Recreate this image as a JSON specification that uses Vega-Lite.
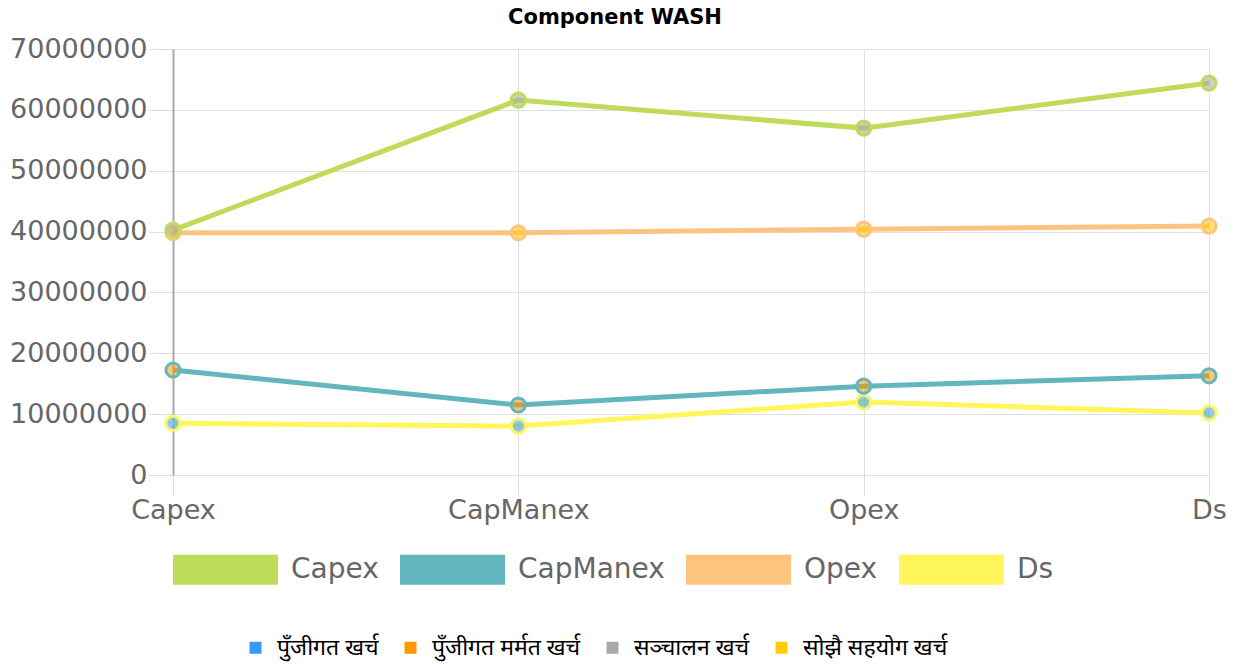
{
  "$schema": "https://vega.github.io/schema/vega-lite/v6.json",
  "width": 1036,
  "height": 426,
  "autosize": {"type": "none"},
  "padding": {"left": 173, "top": 49, "right": 40, "bottom": 189},
  "background": "white",
  "title": {"text": "Component WASH", "font": "DejaVu Sans", "fontSize": 21, "fontWeight": "bold", "color": "#000", "anchor": "middle", "dx": -76, "offset": 7},
  "data": {"values": [
    {"series": "Ds", "stage": "Capex", "amount": 8500000, "cat": "पुँजीगत खर्च"},
    {"series": "Ds", "stage": "CapManex", "amount": 8050000, "cat": "पुँजीगत खर्च"},
    {"series": "Ds", "stage": "Opex", "amount": 12000000, "cat": "पुँजीगत खर्च"},
    {"series": "Ds", "stage": "Ds", "amount": 10200000, "cat": "पुँजीगत खर्च"},
    {"series": "CapManex", "stage": "Capex", "amount": 17250000, "cat": "पुँजीगत मर्मत खर्च"},
    {"series": "CapManex", "stage": "CapManex", "amount": 11500000, "cat": "पुँजीगत मर्मत खर्च"},
    {"series": "CapManex", "stage": "Opex", "amount": 14600000, "cat": "पुँजीगत मर्मत खर्च"},
    {"series": "CapManex", "stage": "Ds", "amount": 16300000, "cat": "पुँजीगत मर्मत खर्च"},
    {"series": "Opex", "stage": "Capex", "amount": 39800000, "cat": "सोझै सहयोग खर्च"},
    {"series": "Opex", "stage": "CapManex", "amount": 39800000, "cat": "सोझै सहयोग खर्च"},
    {"series": "Opex", "stage": "Opex", "amount": 40400000, "cat": "सोझै सहयोग खर्च"},
    {"series": "Opex", "stage": "Ds", "amount": 40900000, "cat": "सोझै सहयोग खर्च"},
    {"series": "Capex", "stage": "Capex", "amount": 40250000, "cat": "सञ्चालन खर्च"},
    {"series": "Capex", "stage": "CapManex", "amount": 61600000, "cat": "सञ्चालन खर्च"},
    {"series": "Capex", "stage": "Opex", "amount": 57000000, "cat": "सञ्चालन खर्च"},
    {"series": "Capex", "stage": "Ds", "amount": 64400000, "cat": "सञ्चालन खर्च"}
  ]},
  "encoding": {
    "x": {
      "field": "stage", "type": "ordinal", "sort": ["Capex", "CapManex", "Opex", "Ds"],
      "scale": {"type": "point", "padding": 0},
      "axis": {"title": null, "labelAngle": 0, "labelFont": "DejaVu Sans", "labelFontSize": 27, "labelColor": "#666", "labelPadding": 2, "tickSize": 20, "tickColor": "#ddd", "domain": false, "grid": true, "gridColor": "#e0e0e0"}
    },
    "y": {
      "field": "amount", "type": "quantitative",
      "scale": {"domain": [0, 70000000]},
      "axis": {"title": null, "values": [0, 10000000, 20000000, 30000000, 40000000, 50000000, 60000000, 70000000], "format": "d", "labelFont": "DejaVu Sans", "labelFontSize": 27, "labelColor": "#666", "labelPadding": 2, "tickSize": 24, "tickColor": "#ddd", "domainColor": "#aaa", "domainWidth": 2, "gridColor": "#e0e0e0"}
    }
  },
  "layer": [
    {
      "mark": {"type": "line", "strokeWidth": 5},
      "encoding": {
        "color": {
          "field": "series", "type": "nominal",
          "scale": {"domain": ["Capex", "CapManex", "Opex", "Ds"], "range": ["#bedc5a", "#62b6be", "#ffc380", "#fff65c"]},
          "legend": {"orient": "none", "legendX": 0, "legendY": 468, "direction": "horizontal", "title": null, "symbolType": "M-1,-0.286H1V0.286H-1Z", "symbolSize": 11025, "labelFont": "DejaVu Sans", "labelFontSize": 28, "labelColor": "#666", "labelOffset": 13, "columnPadding": 21, "padding": 0, "labelLimit": 400,
            "encode": {"symbols": {"update": {"fill": {"scale": "color", "field": "value"}, "fillOpacity": {"value": 1}, "strokeWidth": {"value": 0}}}}}
        }
      }
    },
    {
      "mark": {"type": "point", "shape": "circle", "filled": true, "size": 200, "strokeWidth": 3, "fillOpacity": 0.55, "opacity": 1},
      "encoding": {
        "stroke": {
          "field": "series", "type": "nominal",
          "scale": {"domain": ["Capex", "CapManex", "Opex", "Ds"], "range": ["#bedc5a", "#62b6be", "#ffc380", "#fff65c"]},
          "legend": null
        },
        "fill": {
          "field": "cat", "type": "nominal",
          "scale": {"domain": ["पुँजीगत खर्च", "पुँजीगत मर्मत खर्च", "सञ्चालन खर्च", "सोझै सहयोग खर्च"], "range": ["#3399ff", "#ff9900", "#a6a8ae", "#ffcc00"]},
          "legend": {"orient": "none", "legendX": 71, "legendY": 587, "direction": "horizontal", "title": null, "symbolType": "square", "symbolSize": 144, "labelFont": "Noto Sans", "labelFontSize": 23, "labelColor": "#000", "labelOffset": 10, "columnPadding": 20, "padding": 0, "labelLimit": 400, "symbolStrokeWidth": 0,
            "encode": {"symbols": {"update": {"fillOpacity": {"value": 1}, "opacity": {"value": 1}}}}}
        }
      }
    }
  ]
}
